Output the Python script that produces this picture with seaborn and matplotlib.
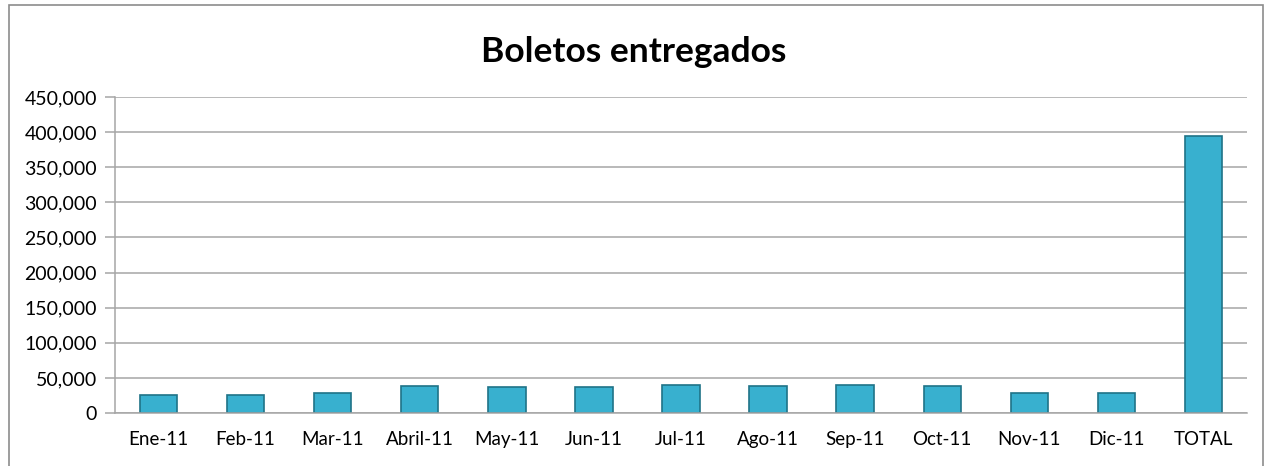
import matplotlib
matplotlib.use("Agg")
import matplotlib.pyplot as plt
import matplotlib.ticker as mticker
from matplotlib.patches import Rectangle
import pandas as pd
import seaborn as sns

# Datos
meses = ["Ene-11", "Feb-11", "Mar-11", "Abril-11", "May-11", "Jun-11", "Jul-11",
         "Ago-11", "Sep-11", "Oct-11", "Nov-11", "Dic-11", "TOTAL"]
boletos = [26000, 26000, 28800, 38100, 37300, 36800, 39500,
           38100, 39500, 38400, 28200, 28200, 394000]

df = pd.DataFrame({"mes": meses, "boletos": boletos})

sns.set_style("white")
plt.rcParams["font.family"] = ["Lato", "DejaVu Sans"]
plt.rcParams["text.color"] = "black"
plt.rcParams["xtick.color"] = "black"
plt.rcParams["ytick.color"] = "black"

fig = plt.figure(figsize=(12.68, 4.66), dpi=100)
ax = fig.add_axes([115 / 1268, 1 - 413 / 466, 1132 / 1268, 316 / 466])

sns.barplot(data=df, x="mes", y="boletos", ax=ax, color="#38B0CF",
            width=0.43, edgecolor="#1F7388", linewidth=1.2, saturation=1)

ax.set_xlim(-0.5, len(meses) - 0.5)
ax.set_ylim(0, 450000)
ax.yaxis.set_major_locator(mticker.MultipleLocator(50000))
ax.yaxis.set_major_formatter(mticker.FuncFormatter(lambda v, p: f"{int(v):,}"))
ax.grid(axis="y", color="#A6A6A6", linewidth=1.1)
ax.set_axisbelow(True)

# marcas entre categorías
ax.set_xticks([i + 0.5 for i in range(len(meses))], minor=True)
ax.tick_params(axis="x", which="minor", length=6, color="#A6A6A6", width=1.1)
ax.tick_params(axis="x", which="major", length=0, labelsize=13.5, pad=13)
ax.tick_params(axis="y", which="major", length=7, color="#A6A6A6", width=1.1,
               labelsize=14, labelcolor="black", pad=6, left=True)
ax.tick_params(axis="x", labelcolor="black")

for s in ["top", "right"]:
    ax.spines[s].set_visible(False)
for s in ["left", "bottom"]:
    ax.spines[s].set_color("#A6A6A6")
    ax.spines[s].set_linewidth(1.1)

ax.set_xlabel("")
ax.set_ylabel("")

fig.text(0.5, 1 - 52 / 466, "Boletos entregados", ha="center", va="center",
         fontsize=25.5, fontweight="bold", color="black")

fig.patches.append(Rectangle((8.5 / 1268, -0.02), 1254 / 1268, 1.02 - 5.5 / 466,
                             transform=fig.transFigure, fill=False,
                             edgecolor="#8C8C8C", linewidth=1.2))

fig.savefig("out.png", dpi=100)
